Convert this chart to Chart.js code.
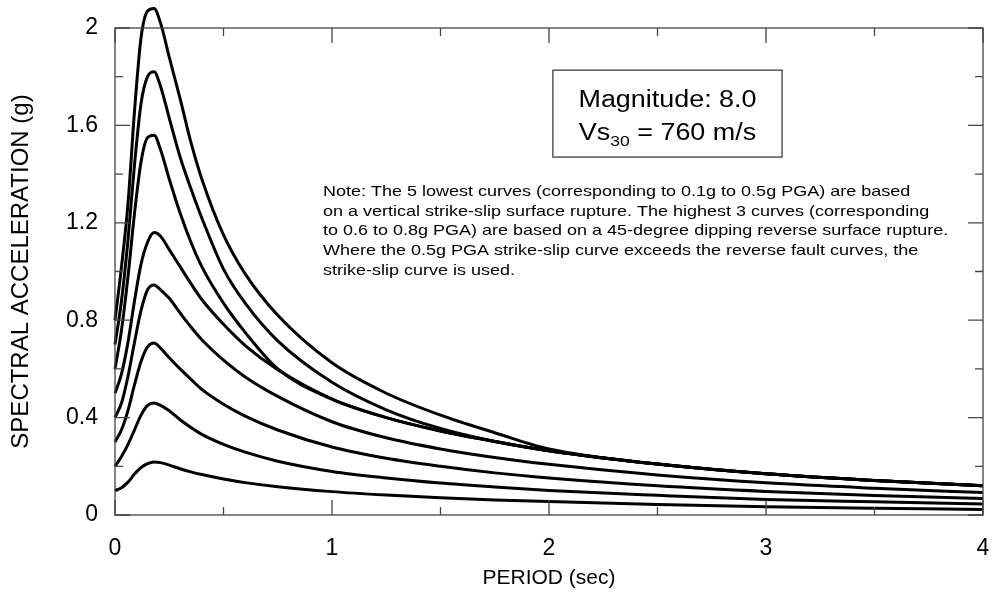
<!DOCTYPE html>
<html>
<head>
<meta charset="utf-8">
<script src="https://cdn.jsdelivr.net/npm/chart.js@4.4.0/dist/chart.umd.min.js"></script>
<style>
  html, body { margin: 0; padding: 0; background: #fff; }
  #wrap { width: 993px; height: 598px; }
</style>
</head>
<body>
<div id="wrap"><canvas id="spectra" width="993" height="598"></canvas></div>
<script>
// periods (sec) shared by every curve
const periods = [0, 0.03, 0.06, 0.09, 0.12, 0.15, 0.18, 0.21, 0.25, 0.3, 0.35, 0.4, 0.5, 0.6, 0.75, 1.0, 1.25, 1.5, 1.75, 2.0, 2.5, 3.0, 3.5, 4.0];

// spectral acceleration (g), one array per PGA level
const pga01 = [0.100, 0.112, 0.135, 0.168, 0.195, 0.211, 0.218, 0.215, 0.205, 0.190, 0.177, 0.166, 0.148, 0.133, 0.116, 0.096, 0.082, 0.071, 0.062, 0.055, 0.043, 0.034, 0.028, 0.023];
const pga02 = [0.20, 0.24, 0.29, 0.35, 0.41, 0.45, 0.46, 0.45, 0.428, 0.391, 0.359, 0.331, 0.290, 0.258, 0.221, 0.179, 0.152, 0.131, 0.115, 0.101, 0.081, 0.064, 0.054, 0.045];
const pga03 = [0.30, 0.35, 0.43, 0.535, 0.63, 0.69, 0.706, 0.685, 0.646, 0.600, 0.557, 0.516, 0.455, 0.406, 0.349, 0.279, 0.233, 0.200, 0.173, 0.152, 0.120, 0.097, 0.080, 0.068];
const pga04 = [0.40, 0.46, 0.57, 0.71, 0.84, 0.925, 0.945, 0.925, 0.89, 0.83, 0.772, 0.72, 0.636, 0.567, 0.487, 0.383, 0.317, 0.271, 0.236, 0.208, 0.164, 0.132, 0.110, 0.092];
const pga05 = [0.50, 0.58, 0.71, 0.88, 1.03, 1.12, 1.16, 1.145, 1.09, 1.02, 0.95, 0.885, 0.783, 0.696, 0.597, 0.476, 0.400, 0.345, 0.302, 0.264, 0.209, 0.169, 0.142, 0.120];
const pga06 = [0.60, 0.76, 0.98, 1.24, 1.45, 1.55, 1.56, 1.50, 1.38, 1.24, 1.12, 1.02, 0.87, 0.75, 0.60, 0.476, 0.400, 0.345, 0.302, 0.264, 0.209, 0.169, 0.142, 0.120];
const pga07 = [0.70, 0.88, 1.13, 1.44, 1.69, 1.80, 1.82, 1.76, 1.63, 1.47, 1.34, 1.22, 1.01, 0.87, 0.715, 0.545, 0.432, 0.355, 0.302, 0.264, 0.209, 0.169, 0.142, 0.120];
const pga08 = [0.80, 1.02, 1.28, 1.66, 1.96, 2.07, 2.08, 2.02, 1.88, 1.71, 1.53, 1.38, 1.15, 0.99, 0.82, 0.625, 0.50, 0.41, 0.338, 0.271, 0.209, 0.169, 0.142, 0.120];

const curves = [pga01, pga02, pga03, pga04, pga05, pga06, pga07, pga08];

const xTicks = [0, 1, 2, 3, 4];
const xMinor = [0.5, 1.5, 2.5, 3.5];
const yTicks = [0, 0.4, 0.8, 1.2, 1.6, 2];
const yMinor = [0.2, 0.6, 1.0, 1.4, 1.8];

const noteLines = [
  'Note: The 5 lowest curves (corresponding to 0.1g to 0.5g PGA) are based',
  'on a vertical strike-slip surface rupture. The highest 3 curves (corresponding',
  'to 0.6 to 0.8g PGA) are based on a 45-degree dipping reverse surface rupture.',
  'Where the 0.5g PGA strike-slip curve exceeds the reverse fault curves, the',
  'strike-slip curve is used.'
];

const FONT = 'Arial, "Liberation Sans", sans-serif';

// text drawn a bit wider than the font, like the original
function wideText(ctx, str, x, y, sx) {
  ctx.save();
  ctx.translate(x, y);
  ctx.scale(sx, 1);
  ctx.fillText(str, 0, 0);
  ctx.restore();
}

// frame with inward ticks on all four sides, plus the text boxes
const framePlugin = {
  id: 'frame',
  afterDatasetsDraw(chart) {
    const { ctx, chartArea: a, scales: { x, y } } = chart;
    ctx.save();
    ctx.strokeStyle = '#444';
    ctx.lineWidth = 1.3;
    ctx.strokeRect(a.left, a.top, a.right - a.left, a.bottom - a.top);
    ctx.beginPath();
    const tickX = (vals, len) => {
      vals.forEach(v => {
        const px = x.getPixelForValue(v);
        ctx.moveTo(px, a.bottom); ctx.lineTo(px, a.bottom - len);
        ctx.moveTo(px, a.top); ctx.lineTo(px, a.top + len);
      });
    };
    const tickY = (vals, len) => {
      vals.forEach(v => {
        const py = y.getPixelForValue(v);
        ctx.moveTo(a.left, py); ctx.lineTo(a.left + len, py);
        ctx.moveTo(a.right, py); ctx.lineTo(a.right - len, py);
      });
    };
    tickX(xTicks, 15); tickX(xMinor, 8);
    tickY(yTicks, 15); tickY(yMinor, 8);
    ctx.stroke();
    ctx.restore();
  },
  afterDraw(chart) {
    const { ctx, scales: { x, y } } = chart;
    ctx.save();
    // magnitude box
    const bx0 = x.getPixelForValue(2.018), bx1 = x.getPixelForValue(3.074);
    const by0 = y.getPixelForValue(1.827), by1 = y.getPixelForValue(1.47);
    ctx.fillStyle = '#fff';
    ctx.fillRect(bx0, by0, bx1 - bx0, by1 - by0);
    ctx.strokeStyle = '#000';
    ctx.lineWidth = 1;
    ctx.strokeRect(bx0, by0, bx1 - bx0, by1 - by0);
    const cx = (bx0 + bx1) / 2;
    const sx = 1.17;
    ctx.fillStyle = '#000';
    ctx.textBaseline = 'alphabetic';
    ctx.textAlign = 'left';
    const big = '23px ' + FONT, small = '15px ' + FONT;
    ctx.font = big;
    const wm = ctx.measureText('Magnitude: 8.0').width * sx;
    wideText(ctx, 'Magnitude: 8.0', cx - wm / 2, by0 + 37, sx);
    // Vs30 line with subscript
    const w1 = ctx.measureText('Vs').width * sx;
    const w3 = ctx.measureText(' = 760 m/s').width * sx;
    ctx.font = small;
    const w2 = ctx.measureText('30').width * sx;
    let px = cx - (w1 + w2 + w3) / 2;
    const base = by0 + 70;
    ctx.font = big; wideText(ctx, 'Vs', px, base, sx); px += w1;
    ctx.font = small; wideText(ctx, '30', px, base + 6, sx); px += w2;
    ctx.font = big; wideText(ctx, ' = 760 m/s', px, base, sx);
    // note
    ctx.font = '15px ' + FONT;
    const nx = x.getPixelForValue(0.958);
    const ny = y.getPixelForValue(1.31);
    noteLines.forEach((line, i) => wideText(ctx, line, nx, ny + i * 19.7, 1.2));
    ctx.restore();
  }
};

new Chart(document.getElementById('spectra'), {
  type: 'line',
  data: {
    datasets: curves.map(vals => ({
      data: periods.map((t, i) => ({ x: t, y: vals[i] })),
      borderColor: '#000',
      borderWidth: 3,
      pointRadius: 0,
      fill: false,
      cubicInterpolationMode: 'monotone',
      clip: false
    }))
  },
  options: {
    responsive: false,
    animation: false,
    layout: { padding: { top: 28, right: 10, left: 0, bottom: 0 } },
    plugins: { legend: { display: false }, tooltip: { enabled: false } },
    scales: {
      x: {
        type: 'linear',
        min: 0, max: 4,
        afterBuildTicks: s => { s.ticks = xTicks.map(v => ({ value: v })); },
        afterFit: s => { s.height = 83; s.paddingLeft = 0; s.paddingRight = 0; },
        border: { display: false },
        grid: { display: false, drawTicks: false },
        ticks: { padding: 20, color: '#000', font: { family: FONT, size: 23 }, maxRotation: 0 },
        title: { display: true, text: 'PERIOD (sec)', color: '#000', font: { family: FONT, size: 21 }, padding: { top: 0, bottom: 7 } }
      },
      y: {
        min: 0, max: 2,
        afterBuildTicks: s => { s.ticks = yTicks.map(v => ({ value: v })); },
        afterFit: s => { s.width = 115; s.paddingTop = 0; s.paddingBottom = 0; },
        border: { display: false },
        grid: { display: false, drawTicks: false },
        ticks: { padding: 17, color: '#000', font: { family: FONT, size: 23 }, callback: v => String(Math.round(v * 10) / 10) },
        title: { display: true, text: 'SPECTRAL ACCELERATION (g)', color: '#000', font: { family: FONT, size: 24 }, padding: { top: 7, bottom: 0 } }
      }
    }
  },
  plugins: [framePlugin]
});
</script>
</body>
</html>
